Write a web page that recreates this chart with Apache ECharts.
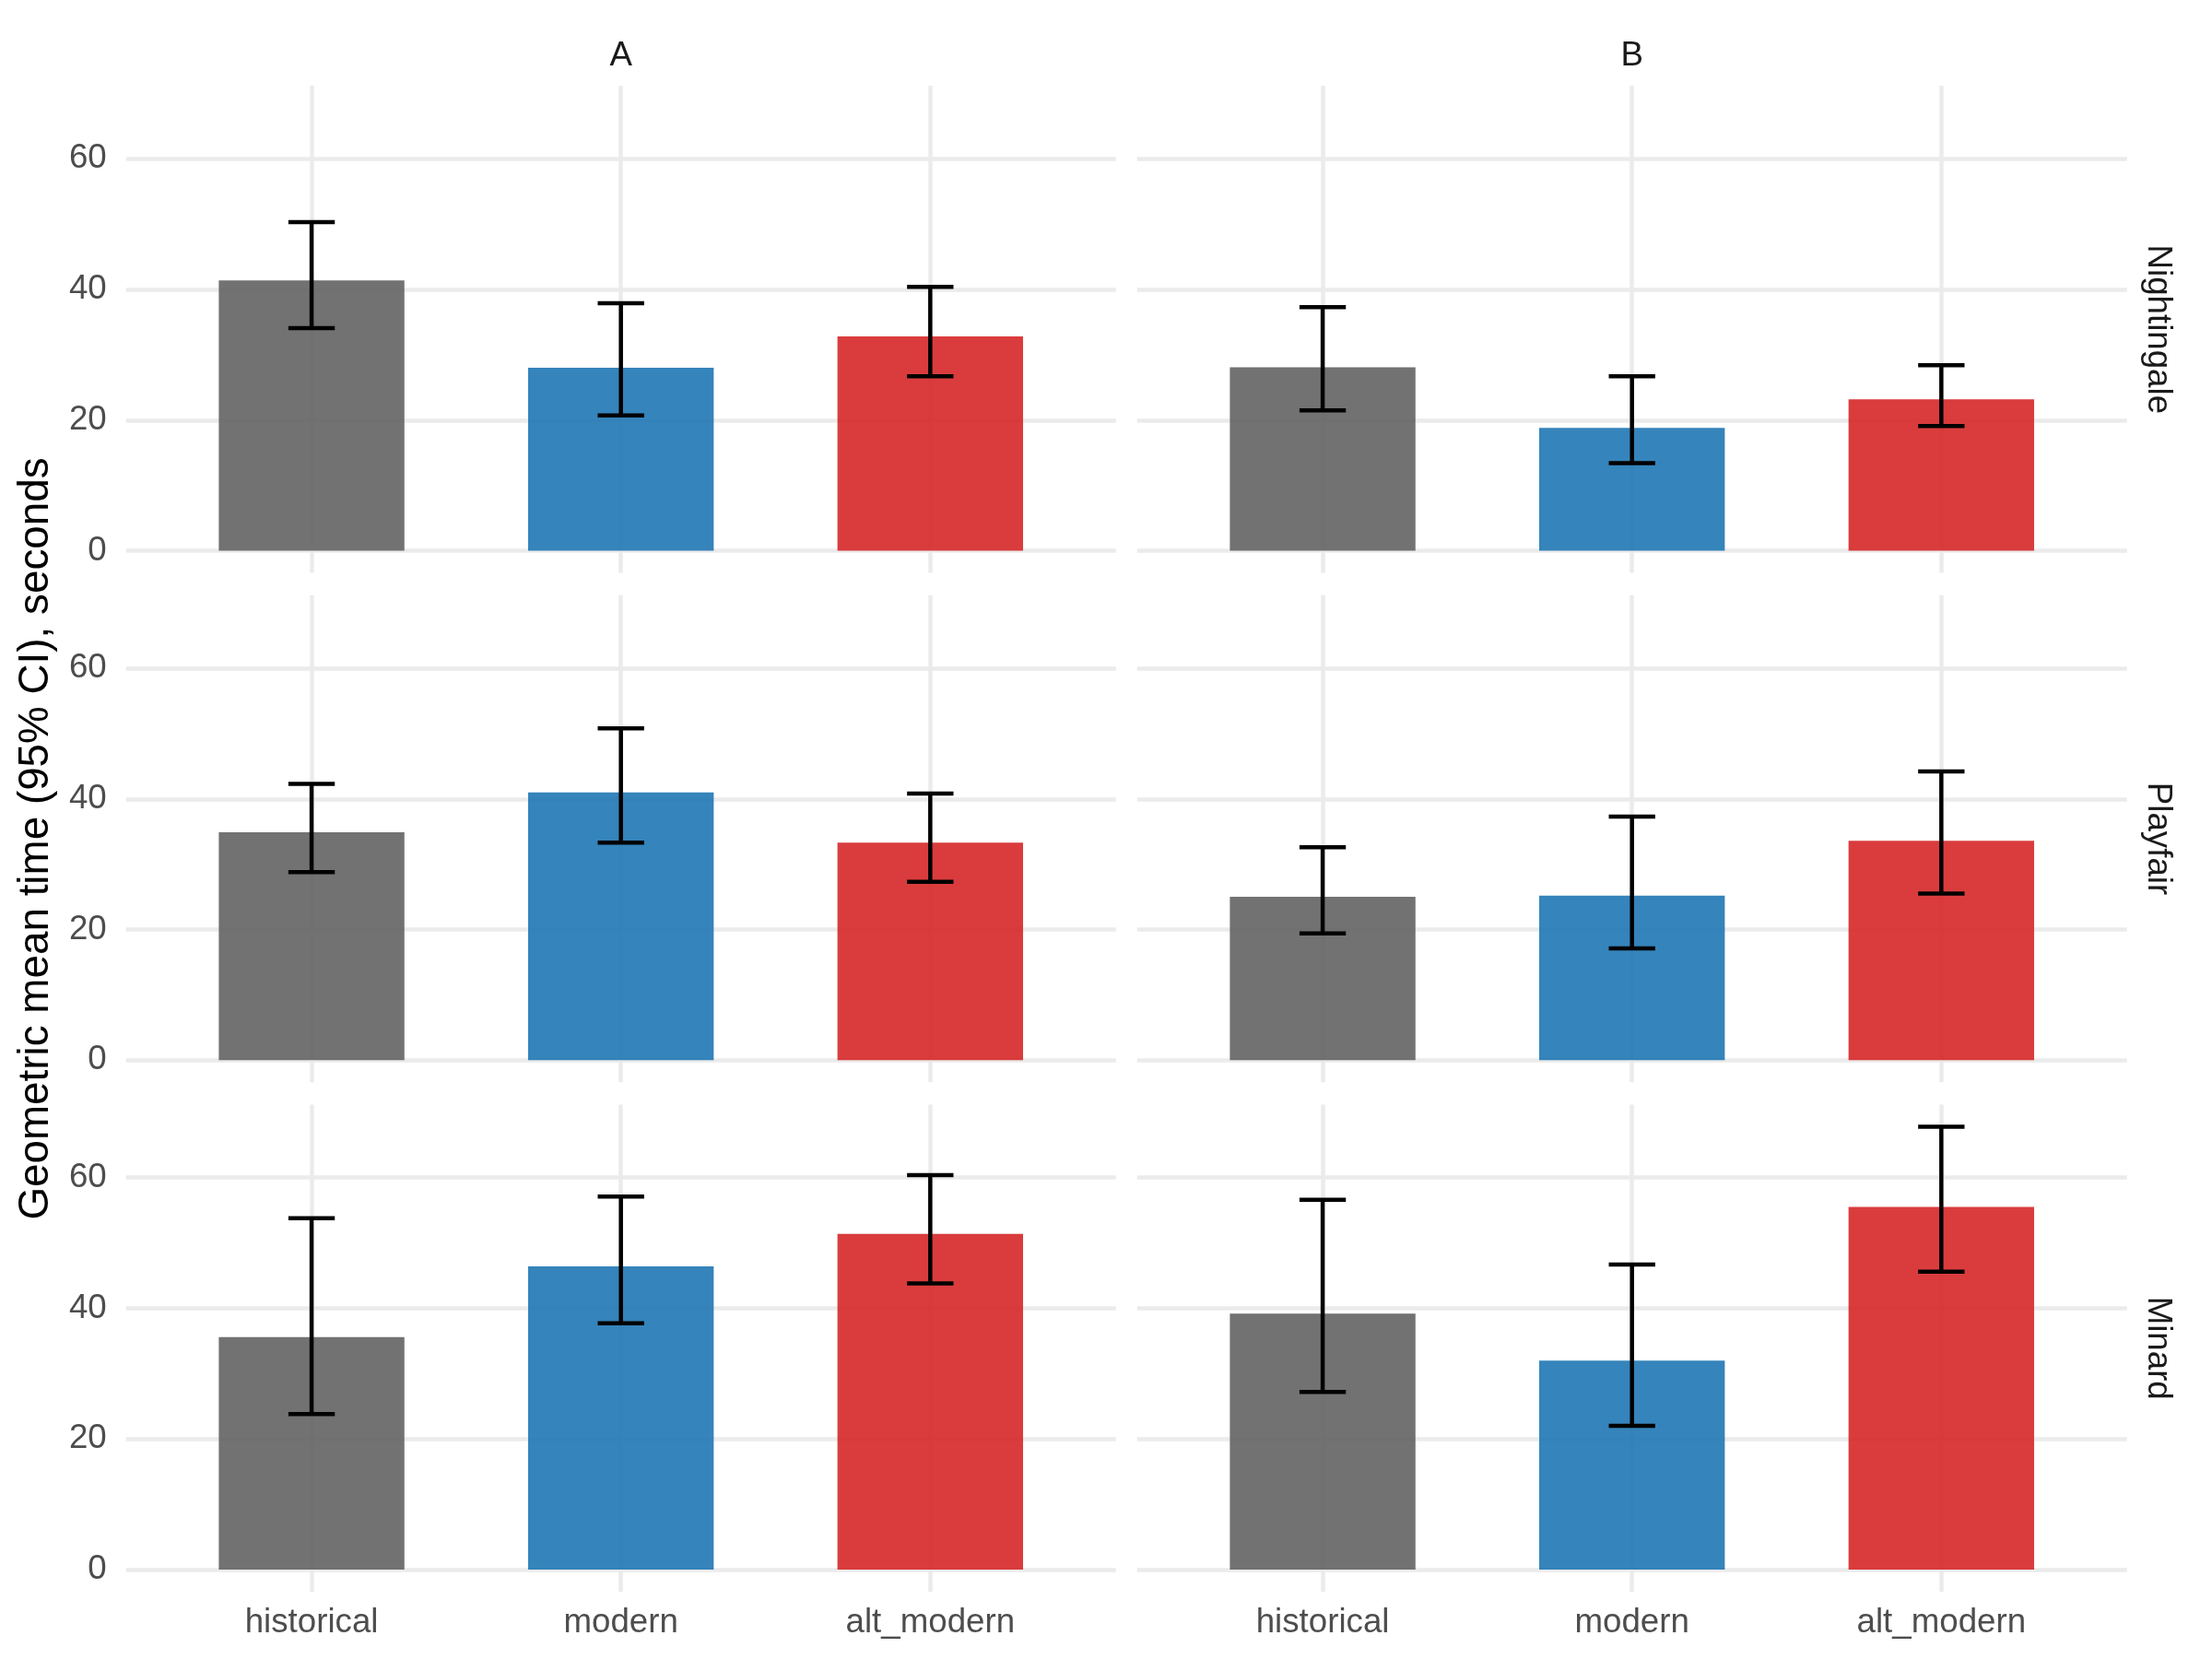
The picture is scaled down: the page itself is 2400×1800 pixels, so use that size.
<!DOCTYPE html>
<html>
<head>
<meta charset="utf-8">
<script src="https://cdn.jsdelivr.net/npm/echarts@6/dist/echarts.min.js"></script>
<style>
  html, body { margin: 0; padding: 0; background: #ffffff; }
  #chart { width: 2400px; height: 1800px; }
</style>
</head>
<body>
<div id="chart"></div>
<script>
// ---------- data ----------
const conditions = ['historical', 'modern', 'alt_modern'];
const facetCols = ['A', 'B'];
const facetRows = ['Nightingale', 'Playfair', 'Minard'];
const yTicks = [0, 20, 40, 60];

// geometric means (rows: Nightingale, Playfair, Minard; cols: conditions)
const meanA = [[41.4, 28.0, 32.8], [34.9, 41.0, 33.3], [35.6, 46.4, 51.4]];
const lowerA = [[34.1, 20.7, 26.7], [28.8, 33.3, 27.3], [23.8, 37.7, 43.8]];
const upperA = [[50.3, 37.9, 40.4], [42.3, 50.8, 40.8], [53.8, 57.1, 60.4]];

const meanB = [[28.1, 18.8, 23.2], [25.0, 25.2, 33.6], [39.2, 32.0, 55.5]];
const lowerB = [[21.5, 13.4, 19.1], [19.4, 17.1, 25.5], [27.2, 22.0, 45.6]];
const upperB = [[37.3, 26.7, 28.4], [32.6, 37.3, 44.2], [56.6, 46.7, 67.8]];

const fills = ['rgba(99,99,99,0.9)', 'rgba(31,119,180,0.9)', 'rgba(214,39,40,0.9)'];

// ---------- layout ----------
const W = 2400, H = 1800;
const colLeft = [136.7, 1233.7];
const panelW = 1074;
const rowTop = [93, 645.7, 1198.4];
const panelH = 528.6;

const allHi = upperA.flat().concat(upperB.flat());
const dataMax = Math.max.apply(null, allHi);
const pad = dataMax * 0.05;
const yMin = -pad, yMax = dataMax + pad;

const FONT = "'Liberation Sans', Arial, Helvetica, sans-serif";
const gridColor = '#EBEBEB';
const gridWidth = 4.5;

const grids = [], xAxes = [], yAxes = [], series = [];
const means = [meanA, meanB], lowers = [lowerA, lowerB], uppers = [upperA, upperB];

let gi = 0;
for (let r = 0; r < 3; r++) {
  for (let c = 0; c < 2; c++) {
    grids.push({
      left: colLeft[c], top: rowTop[r], width: panelW, height: panelH,
      containLabel: false
    });
    xAxes.push({
      type: 'value', gridIndex: gi, min: 0.4, max: 3.6,
      axisLine: { show: false },
      axisTick: { show: false, customValues: [1, 2, 3] },
      axisLabel: {
        show: r === 2, customValues: [1, 2, 3],
        formatter: v => conditions[Math.round(v) - 1] || '',
        color: '#4D4D4D', fontSize: 36.7, fontFamily: FONT, margin: 15
      },
      splitLine: { show: true, lineStyle: { color: gridColor, width: gridWidth } }
    });
    yAxes.push({
      type: 'value', gridIndex: gi, min: yMin, max: yMax,
      axisLine: { show: false },
      axisTick: { show: false, customValues: yTicks },
      axisLabel: {
        show: c === 0, customValues: yTicks,
        color: '#4D4D4D', fontSize: 36.7, fontFamily: FONT, margin: 21
      },
      splitLine: { show: true, lineStyle: { color: gridColor, width: gridWidth } }
    });

    const barData = [], errData = [];
    for (let k = 0; k < 3; k++) {
      barData.push([k + 1, means[c][r][k], k]);
      errData.push([k + 1, lowers[c][r][k], uppers[c][r][k]]);
    }

    series.push({
      type: 'custom', xAxisIndex: gi, yAxisIndex: gi,
      data: barData, z: 2, silent: true,
      renderItem: (params, api) => {
        const x = api.value(0), y = api.value(1), k = api.value(2);
        const p1 = api.coord([x - 0.3, y]);
        const p2 = api.coord([x + 0.3, 0]);
        return {
          type: 'rect',
          shape: { x: p1[0], y: p1[1], width: p2[0] - p1[0], height: p2[1] - p1[1] },
          style: { fill: fills[k] }
        };
      }
    });
    series.push({
      type: 'custom', xAxisIndex: gi, yAxisIndex: gi,
      data: errData, z: 3, silent: true,
      renderItem: (params, api) => {
        const x = api.value(0), lo = api.value(1), hi = api.value(2);
        const pLo = api.coord([x, lo]), pHi = api.coord([x, hi]);
        const cl = api.coord([x - 0.075, lo]), cr = api.coord([x + 0.075, lo]);
        const tl = api.coord([x - 0.075, hi]), tr = api.coord([x + 0.075, hi]);
        const st = { stroke: '#000000', lineWidth: 4.5, lineCap: 'butt' };
        return {
          type: 'group',
          children: [
            { type: 'line', shape: { x1: pLo[0], y1: pLo[1], x2: pHi[0], y2: pHi[1] }, style: st },
            { type: 'line', shape: { x1: cl[0], y1: cl[1], x2: cr[0], y2: cr[1] }, style: st },
            { type: 'line', shape: { x1: tl[0], y1: tl[1], x2: tr[0], y2: tr[1] }, style: st }
          ]
        };
      }
    });
    gi++;
  }
}

// ---------- strip + axis title text ----------
const graphics = [];
facetCols.forEach((name, c) => {
  graphics.push({
    type: 'text', x: colLeft[c] + panelW / 2, y: 61,
    style: { text: name, fontSize: 36.7, fontFamily: FONT, fill: '#1A1A1A', align: 'center', verticalAlign: 'middle' }
  });
});
facetRows.forEach((name, r) => {
  graphics.push({
    type: 'text', x: 2341, y: rowTop[r] + panelH / 2, rotation: -Math.PI / 2,
    style: { text: name, fontSize: 36.7, fontFamily: FONT, fill: '#1A1A1A', align: 'center', verticalAlign: 'middle' }
  });
});
graphics.push({
  type: 'text', x: 39, y: (rowTop[0] + rowTop[2] + panelH) / 2, rotation: Math.PI / 2,
  style: { text: 'Geometric mean time (95% CI), seconds', fontSize: 45.8, fontFamily: FONT, fill: '#000000', align: 'center', verticalAlign: 'middle' }
});

const chart = echarts.init(document.getElementById('chart'), null, { width: W, height: H, renderer: 'canvas' });
chart.setOption({
  backgroundColor: '#ffffff',
  animation: false,
  grid: grids,
  xAxis: xAxes,
  yAxis: yAxes,
  series: series,
  graphic: graphics
});
</script>
</body>
</html>
